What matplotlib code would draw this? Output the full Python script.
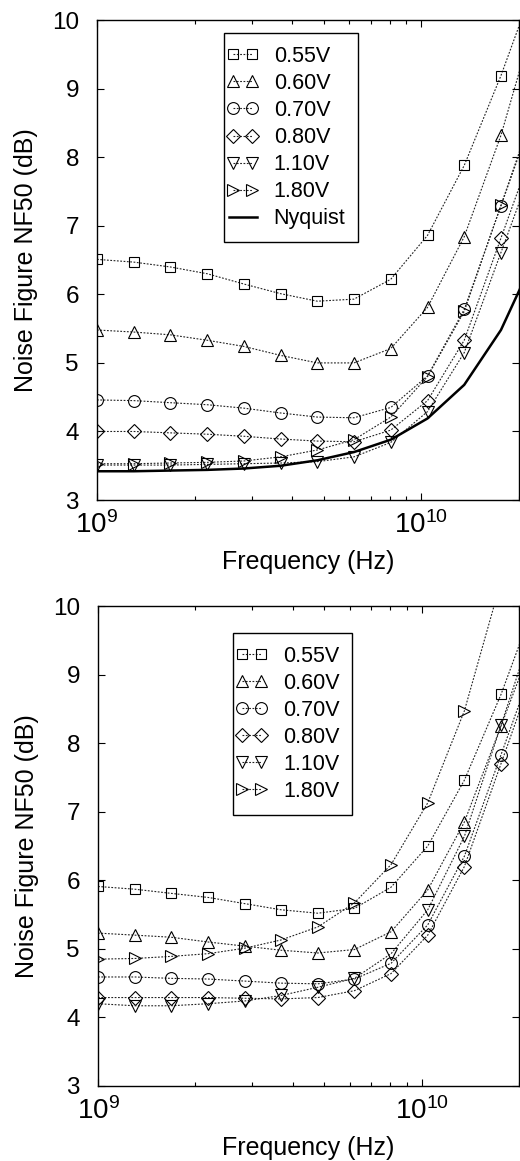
import numpy as np
import matplotlib
matplotlib.use("Agg")
import matplotlib.pyplot as plt
from matplotlib.legend_handler import HandlerLine2D

plt.rcParams.update({
    "font.family": ["Liberation Sans", "DejaVu Sans"],
    "mathtext.fontset": "custom",
    "mathtext.rm": "Liberation Sans",
    "font.size": 16,
})

# frequency points (Hz), last one lies just past the right edge
freq = [1.00e9, 1.30e9, 1.68e9, 2.19e9, 2.84e9, 3.68e9, 4.78e9,
        6.20e9, 8.05e9, 1.045e10, 1.356e10, 1.76e10, 2.28e10]

labels = ["0.55V", "0.60V", "0.70V", "0.80V", "1.10V", "1.80V"]
markers = ["s", "^", "o", "D", "v", ">"]
msizes = [7.5, 9, 8.5, 7, 9, 9]

# top panel
v055_top = [6.51, 6.47, 6.40, 6.30, 6.15, 6.01, 5.90, 5.93, 6.22, 6.86, 7.88, 9.19, 10.65]
v060_top = [5.48, 5.45, 5.41, 5.33, 5.24, 5.11, 5.00, 5.00, 5.21, 5.81, 6.84, 8.32, 10.16]
v070_top = [4.46, 4.45, 4.42, 4.39, 4.34, 4.27, 4.21, 4.20, 4.35, 4.81, 5.78, 7.29, 8.79]
v080_top = [4.00, 4.00, 3.98, 3.96, 3.93, 3.89, 3.86, 3.85, 4.02, 4.45, 5.33, 6.82, 8.30]
v110_top = [3.51, 3.51, 3.51, 3.52, 3.53, 3.54, 3.56, 3.63, 3.84, 4.29, 5.15, 6.61, 8.06]
v180_top = [3.53, 3.53, 3.54, 3.55, 3.57, 3.63, 3.73, 3.88, 4.21, 4.80, 5.75, 7.30, 8.84]
nyq_top = [3.42, 3.42, 3.43, 3.44, 3.46, 3.50, 3.58, 3.70, 3.88, 4.19, 4.68, 5.48, 6.63]

# bottom panel
v055_bot = [5.91, 5.87, 5.81, 5.75, 5.66, 5.57, 5.52, 5.59, 5.90, 6.50, 7.46, 8.71, 10.15]
v060_bot = [5.23, 5.20, 5.17, 5.10, 5.04, 4.98, 4.94, 4.99, 5.25, 5.86, 6.85, 8.25, 9.65]
v070_bot = [4.59, 4.59, 4.57, 4.56, 4.53, 4.50, 4.49, 4.56, 4.79, 5.35, 6.35, 7.83, 9.31]
v080_bot = [4.29, 4.29, 4.29, 4.29, 4.28, 4.27, 4.29, 4.39, 4.64, 5.20, 6.20, 7.70, 9.20]
v110_bot = [4.20, 4.17, 4.17, 4.20, 4.24, 4.32, 4.44, 4.57, 4.93, 5.57, 6.64, 8.26, 9.88]
v180_bot = [4.85, 4.86, 4.89, 4.93, 5.01, 5.13, 5.32, 5.67, 6.23, 7.13, 8.47, 10.36, np.nan]

LINE = "#222222"
DOT = (0, (1.6, 1.4))


def panel(ax, series, nyq, legend_xy):
    hmap = {}
    for vals, lab, mk, ms in zip(series, labels, markers, msizes):
        ln, = ax.plot(freq, vals, linestyle=DOT, color=LINE, linewidth=0.8,
                      marker=mk, markersize=ms, markerfacecolor="none",
                      markeredgecolor="black", markeredgewidth=0.8, label=lab)
        hmap[ln] = HandlerLine2D(marker_pad=-0.15)
    if nyq is not None:
        ln, = ax.plot(freq, nyq, color="black", linewidth=1.8, label="Nyquist")
        hmap[ln] = HandlerLine2D(marker_pad=-0.35)
    ax.set_xscale("log")
    ax.set_xlim(1e9, 2e10)
    ax.set_ylim(3, 10)
    ax.set_yticks(range(3, 11))
    ax.tick_params(which="both", direction="in", top=True, right=True, width=0.8)
    ax.tick_params(which="major", length=5)
    ax.tick_params(which="minor", length=3)
    ax.tick_params(axis="y", pad=13, labelsize=17.5)
    ax.tick_params(axis="x", pad=8, labelsize=20)
    ax.set_xlabel("Frequency (Hz)", fontsize=18, labelpad=8)
    ax.set_ylabel("Noise Figure NF50 (dB)", fontsize=18, labelpad=10)
    for s in ax.spines.values():
        s.set_linewidth(1.0)
    leg = ax.legend(loc="upper left", bbox_to_anchor=legend_xy, numpoints=2,
                    handler_map=hmap,
                    handlelength=0.58, handletextpad=1.15, labelspacing=0.28,
                    borderpad=0.6, borderaxespad=0, fontsize=15.5,
                    fancybox=False, framealpha=1, edgecolor="black")
    leg.get_frame().set_linewidth(1.0)


fig = plt.figure(figsize=(5.2, 11.61), dpi=100)
ax1 = fig.add_axes([0.1865, 0.5693, 0.8115, 0.4134])
ax2 = fig.add_axes([0.1885, 0.0646, 0.8095, 0.4134])

panel(ax1, [v055_top, v060_top, v070_top, v080_top, v110_top, v180_top], nyq_top, (0.30, 0.973))
panel(ax2, [v055_bot, v060_bot, v070_bot, v080_bot, v110_bot, v180_bot], None, (0.32, 0.944))

fig.savefig("out.png", dpi=100)
